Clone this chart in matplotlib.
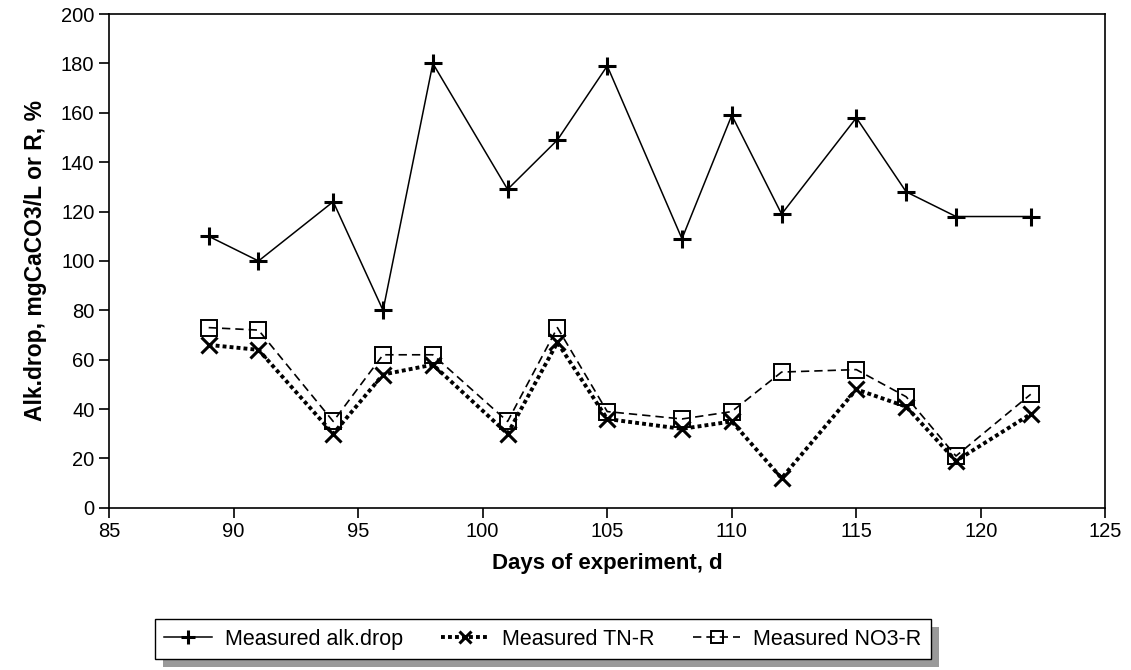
import matplotlib.pyplot as plt
from matplotlib.patches import Rectangle

plt.rcParams['font.family'] = ['Liberation Sans', 'DejaVu Sans']

dias = [89, 91, 94, 96, 98, 101, 103, 105, 108, 110, 112, 115, 117, 119, 122]
alk_drop = [110, 100, 124, 80, 180, 129, 149, 179, 109, 159, 119, 158, 128, 118, 118]
tn_r = [66, 64, 30, 54, 58, 30, 67, 36, 32, 35, 12, 48, 41, 19, 38]
no3_r = [73, 72, 35, 62, 62, 35, 73, 39, 36, 39, 55, 56, 45, 21, 46]

fig = plt.figure(figsize=(11.31, 6.70), dpi=100)
ax = fig.add_axes([0.0964, 0.242, 0.881, 0.737])

ax.plot(dias, alk_drop, color='black', linewidth=1.1, marker='+', markersize=13,
        markeredgewidth=2.2, label='Measured alk.drop')
ax.plot(dias, tn_r, color='black', linewidth=2.8, linestyle=(0, (1, 0.8)), marker='x',
        markersize=11, markeredgewidth=2.2, label='Measured TN-R')
ax.plot(dias, no3_r, color='black', linewidth=1.2, linestyle=(0, (5, 3)), marker='s',
        markersize=11, markerfacecolor='none', markeredgewidth=1.4, label='Measured NO3-R')

ax.set_xlim(85, 125)
ax.set_ylim(0, 200)
ax.set_xticks(range(85, 126, 5))
ax.set_yticks(range(0, 201, 20))
ax.tick_params(direction='out', length=7, width=1.2, labelsize=14.5)
for s in ax.spines.values():
    s.set_linewidth(1.2)

ax.set_xlabel('Days of experiment, d', fontsize=16, fontweight='bold', labelpad=8)
ax.set_ylabel('Alk.drop, mgCaCO3/L or R, %', fontsize=16.5, fontweight='bold', labelpad=10)

leg = fig.legend(loc='center', bbox_to_anchor=(0.48, 0.046), ncol=3, fontsize=15.5,
                 frameon=True, fancybox=False, edgecolor='black', framealpha=1,
                 handlelength=2.2, handletextpad=0.6, columnspacing=1.8,
                 borderpad=0.45, markerscale=0.75)
leg.get_frame().set_linewidth(1.0)
leg.set_zorder(5)

# sombra do quadro da legenda
fig.canvas.draw()
bb = leg.get_window_extent()
sombra = Rectangle((bb.x0 + 8, bb.y0 - 8), bb.width, bb.height, transform=None,
                   facecolor='#9a9a9a', edgecolor='none', zorder=4)
fig.patches.append(sombra)

fig.savefig('out.png', dpi=100)
